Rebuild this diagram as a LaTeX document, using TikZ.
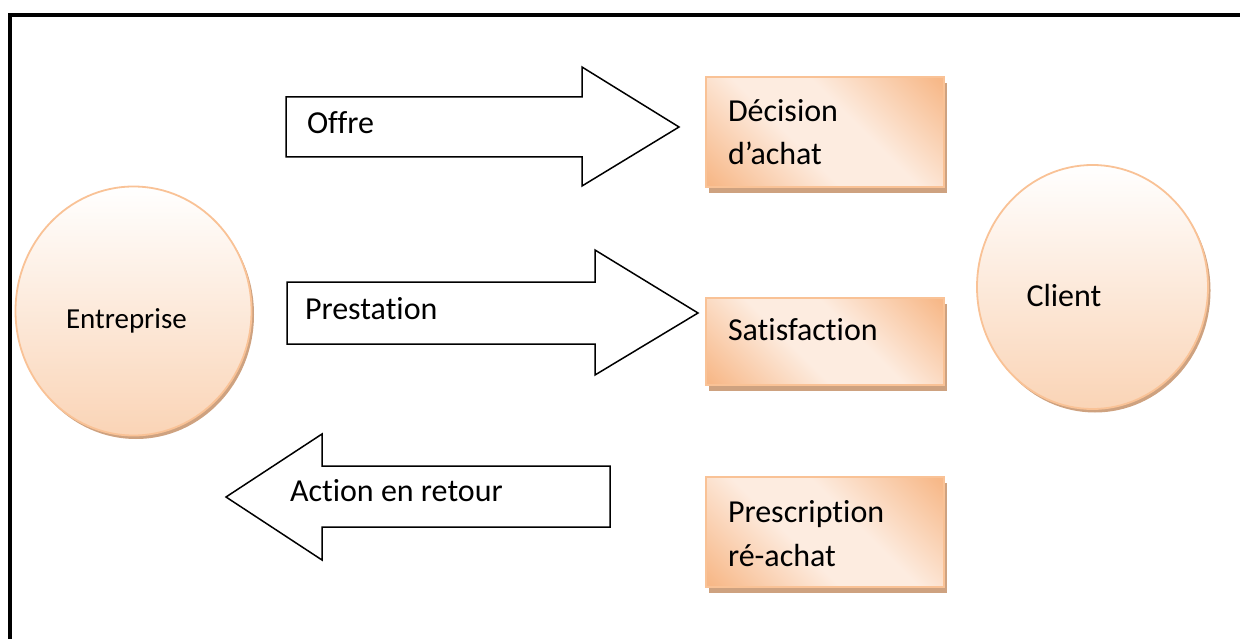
\documentclass[tikz,border=0pt]{standalone}
\usepackage{fontspec}
\setmainfont{Carlito}[Ligatures=NoCommon]
\usetikzlibrary{shapes.geometric,shadows}

\definecolor{peachline}{RGB}{249,194,150}
\definecolor{peachdark}{RGB}{247,184,136}
\definecolor{peachlight}{RGB}{253,236,224}
\definecolor{peachbottom}{RGB}{250,212,182}
\definecolor{shadowtan}{RGB}{206,162,128}

% broad light band running diagonally across the rectangles
\pgfdeclarehorizontalshading{peachband}{100bp}{%
  color(0bp)=(peachdark); color(16bp)=(peachdark); color(42bp)=(peachlight);
  color(58bp)=(peachlight); color(84bp)=(peachdark); color(100bp)=(peachdark)}

\tikzset{
  every node/.style={inner sep=0pt, outer sep=0pt},
  bigtext/.style={font=\fontsize{32}{43.3}\selectfont, align=left},
  infobox/.style={draw=peachline, line width=1.6pt, shading=peachband, shading angle=45,
    minimum width=238pt,
    general shadow={fill=shadowtan, shadow xshift=3pt, shadow yshift=-6pt}},
  actor/.style={ellipse, draw=peachline, line width=1.8pt, top color=white, bottom color=peachbottom,
    general shadow={fill=shadowtan, shadow xshift=2.5pt, shadow yshift=-3.5pt}},
  blockarrow/.style={draw=black, line width=1.5pt, fill=white, line join=miter},
}

\begin{document}
\begin{tikzpicture}[x=1pt, y=-1pt]
\useasboundingbox (0,0) rectangle (1240,639);

% frame
\draw[line width=4pt, line cap=rect] (10,660) -- (10,15) -- (1260,15);

% actors
\node[actor, minimum width=236pt, minimum height=249pt] (entreprise) at (133.5,311) {};
\node[actor, minimum width=231pt, minimum height=244pt] (client) at (1092.5,287) {};
\node[anchor=base west, font=\fontsize{29}{34}\selectfont] (entlabel) at (66,328) {Entreprise};
\node[anchor=base west, bigtext] (clilabel) at (1026.5,306.5) {Client};

% information boxes (base anchor of a two-line label sits on its last line)
\node[infobox, minimum height=110pt] (decision) at (825,132) {};
\node[infobox, minimum height=87pt] (satisfaction) at (825,341.5) {};
\node[infobox, minimum height=110pt] (prescription) at (825,532) {};
\node[anchor=base west, bigtext] (declabel) at (728,165) {Décision\\d’achat};
\node[anchor=base west, bigtext] (satlabel) at (728,340) {Satisfaction};
\node[anchor=base west, bigtext] (prelabel) at (728,566) {Prescription\\ré-achat};

% block arrows
\draw[blockarrow] (286,97) -- (582,97) -- (582,67) -- (679,127) -- (582,186) -- (582,157) -- (286,157) -- cycle;
\draw[blockarrow] (287,282) -- (595,282) -- (595,250) -- (698,313) -- (595,375) -- (595,344) -- (287,344) -- cycle;
\draw[blockarrow] (610,466) -- (322,466) -- (322,434) -- (226,497) -- (322,560) -- (322,527) -- (610,527) -- cycle;
\node[anchor=base west, bigtext] (offre) at (307,134) {Offre};
\node[anchor=base west, bigtext] (prestation) at (305,319) {Prestation};
\node[anchor=base west, bigtext] (retour) at (290,501) {Action en retour};
\end{tikzpicture}
\end{document}
